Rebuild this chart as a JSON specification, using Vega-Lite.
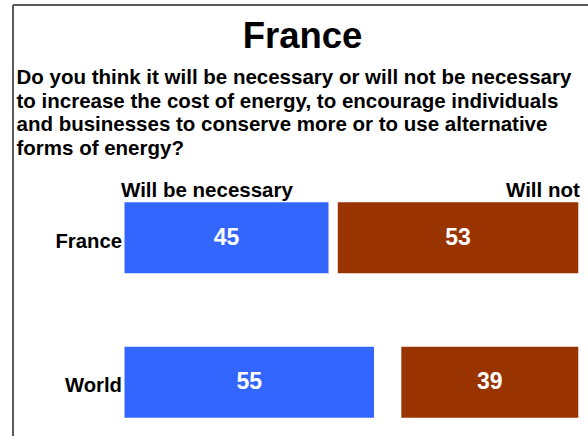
{
  "$schema": "https://vega.github.io/schema/vega-lite/v6.json",
  "width": 575,
  "height": 431,
  "autosize": "none",
  "padding": {"left": 13, "top": 5, "right": 0, "bottom": 0},
  "background": "white",
  "config": {
    "font": "Liberation Sans",
    "view": {"stroke": "#595959", "strokeWidth": 2, "strokeDash": [575, 1006, 431, 0]}
  },
  "title": {
    "text": "France",
    "anchor": "middle",
    "frame": "group",
    "font": "Liberation Sans",
    "fontSize": 36.5,
    "fontWeight": "bold",
    "color": "black",
    "baseline": "alphabetic",
    "offset": -46,
    "dx": 2,
    "dy": 33
  },
  "data": {
    "values": [
      {"region": "France", "response": "Will be necessary", "order": 1, "pct": 45},
      {"region": "France", "response": "Don't know", "order": 2, "pct": 2},
      {"region": "France", "response": "Will not", "order": 3, "pct": 53},
      {"region": "World", "response": "Will be necessary", "order": 1, "pct": 55},
      {"region": "World", "response": "Don't know", "order": 2, "pct": 6},
      {"region": "World", "response": "Will not", "order": 3, "pct": 39}
    ]
  },
  "transform": [
    {"stack": "pct", "groupby": ["region"], "sort": [{"field": "order", "order": "ascending"}], "as": ["x0", "x1"]},
    {"calculate": "(datum.x0 + datum.x1) / 2", "as": "xmid"}
  ],
  "encoding": {
    "y": {
      "field": "region",
      "type": "nominal",
      "sort": ["France", "World"],
      "scale": {"range": [197.3, 412.7], "paddingInner": 0.508, "paddingOuter": 0},
      "axis": {
        "orient": "left",
        "offset": -111.5,
        "domain": false,
        "ticks": false,
        "grid": false,
        "labelPadding": 3,
        "labelFont": "Liberation Sans",
        "labelFontSize": 20.3,
        "labelFontWeight": "bold",
        "labelColor": "black",
        "labelOffset": 4,
        "title": null
      }
    }
  },
  "layer": [
    {
      "mark": {"type": "bar"},
      "encoding": {
        "x": {
          "field": "x0",
          "type": "quantitative",
          "scale": {"domain": [0, 100], "range": [111.5, 565.3], "nice": false, "zero": false},
          "axis": {
            "orient": "top",
            "values": [0, 100],
            "offset": -194,
            "domain": false,
            "ticks": false,
            "tickSize": 0,
            "grid": false,
            "labelFlush": true,
            "labelExpr": "datum.value == 0 ? 'Will be necessary' : 'Will not'",
            "labelFont": "Liberation Sans",
            "labelFontSize": 20.5,
            "labelFontWeight": "bold",
            "labelColor": "black",
            "labelPadding": 3,
            "labelBaseline": "alphabetic",
            "labelOffset": {"condition": {"test": "datum.value == 0", "value": -4}, "value": 1},
            "title": [
              "Do you think it will be necessary or will not be necessary",
              "to increase the cost of energy, to encourage individuals",
              "and businesses to conserve more or to use alternative",
              "forms of energy?"
            ],
            "titleFont": "Liberation Sans",
            "titleFontSize": 20.5,
            "titleFontWeight": "bold",
            "titleColor": "black",
            "titleAnchor": "start",
            "titleAlign": "left",
            "titleBaseline": "alphabetic",
            "titleX": 3,
            "titleY": -115.7,
            "titleLineHeight": 23.8
          }
        },
        "x2": {"field": "x1"},
        "color": {
          "field": "response",
          "type": "nominal",
          "scale": {"domain": ["Will be necessary", "Don't know", "Will not"], "range": ["#3366ff", "#ffffff", "#993300"]},
          "legend": null
        }
      }
    },
    {
      "transform": [{"filter": "datum.response != \"Don't know\""}],
      "mark": {"type": "text", "color": "white", "font": "Liberation Sans", "fontSize": 23, "fontWeight": "bold", "baseline": "middle"},
      "encoding": {
        "x": {"field": "xmid", "type": "quantitative"},
        "text": {"field": "pct", "type": "quantitative"}
      }
    }
  ]
}
